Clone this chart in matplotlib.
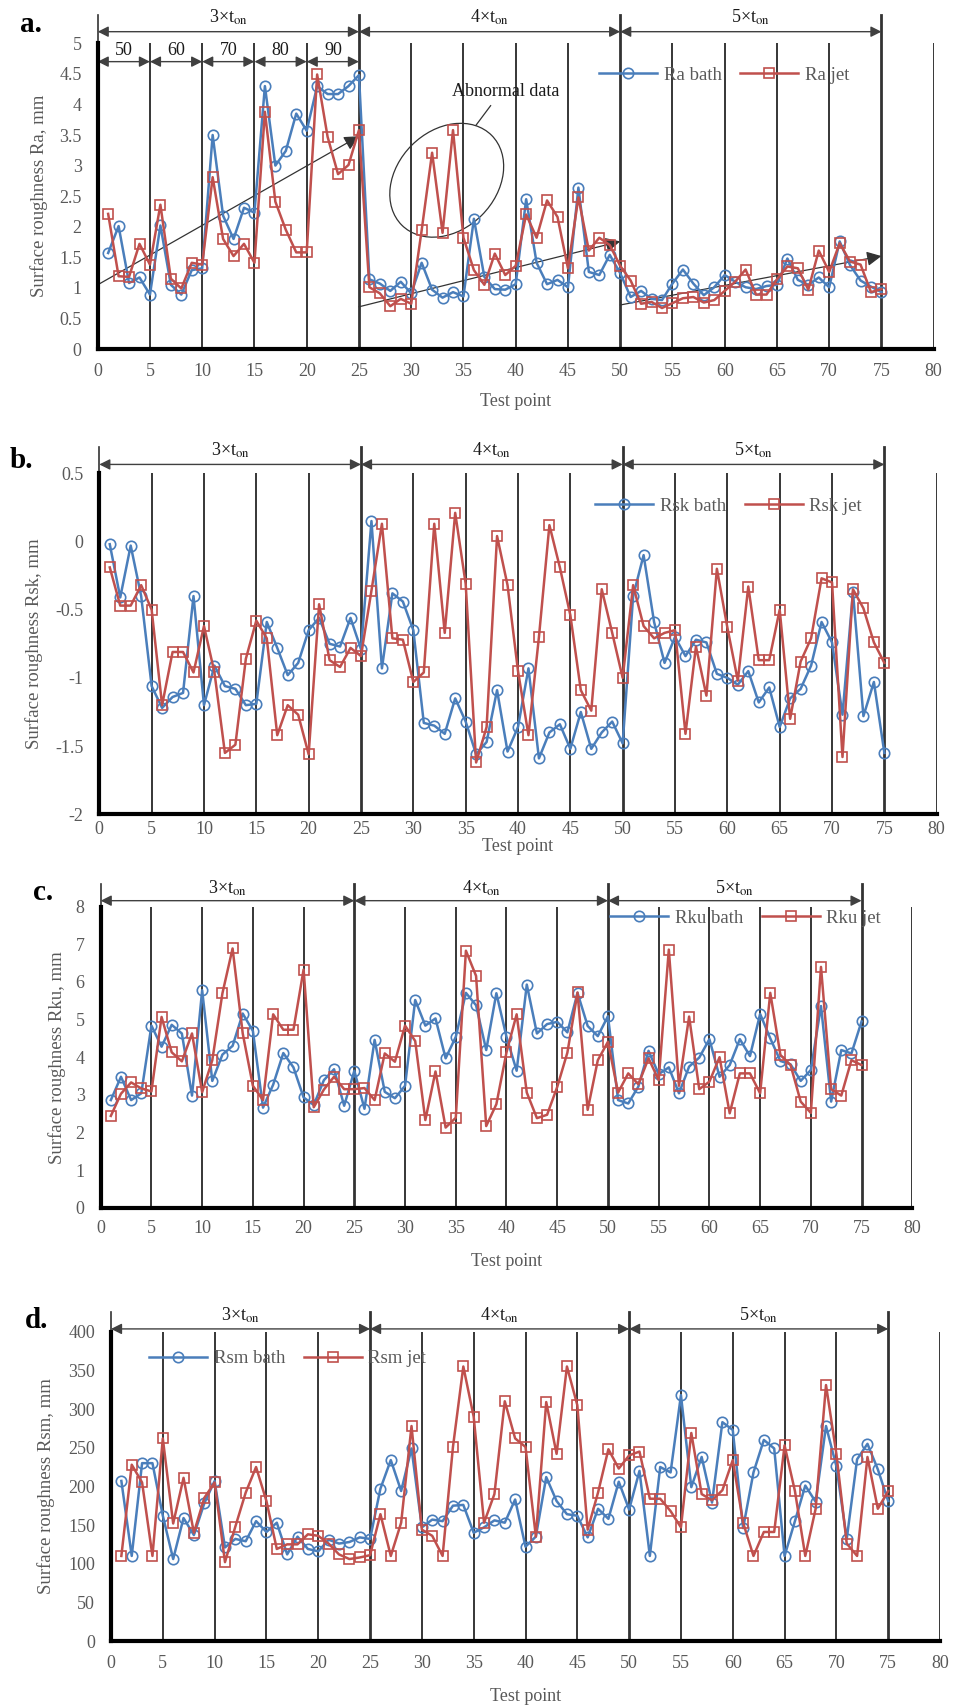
import matplotlib
matplotlib.use('Agg')
import matplotlib.pyplot as plt
from matplotlib.patches import Ellipse
from matplotlib.transforms import ScaledTranslation, blended_transform_factory
from matplotlib.ticker import FuncFormatter, MultipleLocator

plt.rcParams['font.family'] = ['Liberation Serif', 'DejaVu Serif']
plt.rcParams['mathtext.fontset'] = 'stix'

# ---------------- data ----------------
test_points = list(range(1, 76))

ra_bath = [1.57, 2.01, 1.08, 1.17, 0.89, 2.02, 1.05, 0.89, 1.29, 1.32, 3.50, 2.18, 1.80, 2.31, 2.23,
           4.30, 3.00, 3.24, 3.85, 3.57, 4.30, 4.17, 4.17, 4.30, 4.48,
           1.14, 1.07, 0.95, 1.10, 0.91, 1.41, 0.97, 0.84, 0.93, 0.86, 2.13, 1.18, 0.98, 0.97, 1.06,
           2.45, 1.41, 1.06, 1.13, 1.01, 2.64, 1.26, 1.21, 1.54, 1.24,
           0.85, 0.95, 0.82, 0.80, 1.07, 1.30, 1.07, 0.88, 1.01, 1.21, 1.10, 1.01, 0.98, 1.03, 1.05,
           1.48, 1.13, 1.05, 1.17, 1.01, 1.76, 1.37, 1.12, 1.02, 0.93]
ra_jet = [2.21, 1.19, 1.18, 1.72, 1.38, 2.36, 1.15, 0.99, 1.41, 1.38, 2.81, 1.80, 1.52, 1.72, 1.41,
          3.88, 2.41, 1.95, 1.58, 1.58, 4.49, 3.47, 2.86, 3.01, 3.58,
          1.01, 0.91, 0.70, 0.82, 0.74, 1.94, 3.21, 1.90, 3.58, 1.82, 1.29, 1.05, 1.56, 1.21, 1.36,
          2.20, 1.82, 2.43, 2.16, 1.32, 2.48, 1.61, 1.82, 1.70, 1.36,
          1.12, 0.74, 0.77, 0.67, 0.75, 0.83, 0.85, 0.76, 0.80, 0.95, 1.10, 1.30, 0.89, 0.89, 1.14,
          1.35, 1.32, 0.97, 1.61, 1.26, 1.73, 1.43, 1.38, 0.93, 0.98]

rsk_bath = [-0.02, -0.41, -0.03, -0.40, -1.06, -1.22, -1.14, -1.11, -0.40, -1.20, -0.91, -1.06, -1.08,
            -1.20, -1.19, -0.59, -0.78, -0.98, -0.89, -0.65, -0.56, -0.75, -0.77, -0.56, -0.79,
            0.15, -0.93, -0.38, -0.44, -0.65, -1.33, -1.35, -1.41, -1.15, -1.32, -1.56, -1.47, -1.09,
            -1.54, -1.36, -0.93, -1.59, -1.40, -1.34, -1.52, -1.25, -1.52, -1.40, -1.32, -1.48,
            -0.40, -0.10, -0.59, -0.89, -0.70, -0.84, -0.72, -0.74, -0.97, -1.00, -1.05, -0.95, -1.18,
            -1.07, -1.36, -1.15, -1.08, -0.91, -0.59, -0.74, -1.27, -0.37, -1.28, -1.03, -1.55]
rsk_jet = [-0.19, -0.47, -0.47, -0.32, -0.50, -1.20, -0.81, -0.81, -0.96, -0.62, -0.96, -1.55, -1.49,
           -0.86, -0.58, -0.71, -1.42, -1.20, -1.27, -1.56, -0.46, -0.87, -0.92, -0.78, -0.84,
           -0.36, 0.13, -0.71, -0.72, -1.03, -0.96, 0.13, -0.67, 0.21, -0.31, -1.62, -1.36, 0.04,
           -0.32, -0.95, -1.42, -0.70, 0.12, -0.19, -0.54, -1.09, -1.24, -0.35, -0.67, -1.00,
           -0.32, -0.62, -0.71, -0.67, -0.65, -1.41, -0.77, -1.13, -0.20, -0.63, -1.02, -0.33, -0.87,
           -0.87, -0.50, -1.30, -0.88, -0.71, -0.27, -0.30, -1.58, -0.35, -0.49, -0.74, -0.89]

rku_bath = [2.86, 3.48, 2.86, 3.04, 4.84, 4.28, 4.86, 4.63, 2.98, 5.78, 3.37, 4.07, 4.30, 5.16, 4.70,
            2.66, 3.27, 4.11, 3.73, 2.93, 2.73, 3.39, 3.68, 2.71, 3.64,
            2.63, 4.46, 3.08, 2.91, 3.24, 5.52, 4.84, 5.03, 3.97, 4.54, 5.71, 5.38, 4.19, 5.70, 4.54,
            3.64, 5.93, 4.63, 4.88, 4.94, 4.66, 5.71, 4.83, 4.56, 5.09,
            2.86, 2.77, 3.22, 4.17, 3.55, 3.73, 3.04, 3.75, 3.99, 4.48, 3.48, 3.79, 4.48, 4.03, 5.15,
            4.50, 3.90, 3.81, 3.37, 3.66, 5.36, 2.82, 4.19, 4.10, 4.95]
rku_jet = [2.44, 3.03, 3.33, 3.17, 3.09, 5.07, 4.13, 3.89, 4.63, 3.07, 3.92, 5.70, 6.89, 4.63, 3.24,
           2.86, 5.14, 4.73, 4.73, 6.33, 2.67, 3.14, 3.48, 3.15, 3.15,
           3.18, 2.86, 4.10, 3.88, 4.84, 4.43, 2.33, 3.62, 2.13, 2.39, 6.83, 6.16, 2.17, 2.75, 4.13,
           5.14, 3.06, 2.38, 2.47, 3.21, 4.12, 5.72, 2.60, 3.92, 4.41,
           3.06, 3.57, 3.28, 3.97, 3.39, 6.86, 3.24, 5.08, 3.15, 3.35, 4.00, 2.51, 3.57, 3.57, 3.04,
           5.71, 4.06, 3.79, 2.82, 2.52, 6.40, 3.15, 2.98, 3.92, 3.79]

rsm_bath = [207, 110, 230, 230, 162, 106, 159, 137, 178, 207, 121, 132, 129, 155, 141,
            153, 112, 135, 119, 116, 131, 126, 128, 134, 132,
            197, 234, 194, 249, 147, 157, 155, 175, 176, 140, 147, 156, 153, 183, 122,
            135, 212, 181, 164, 162, 134, 171, 158, 206, 170,
            220, 110, 225, 218, 318, 199, 238, 179, 283, 273, 146, 218, 260, 249, 110,
            155, 201, 180, 278, 226, 132, 235, 255, 222, 181]
rsm_jet = [110, 228, 205, 110, 262, 152, 211, 140, 185, 205, 102, 148, 192, 225, 181,
           119, 125, 125, 138, 136, 126, 112, 106, 108, 111,
           164, 110, 153, 278, 144, 136, 110, 251, 355, 290, 153, 190, 310, 262, 251,
           135, 309, 242, 355, 305, 144, 192, 248, 223, 240,
           245, 184, 184, 168, 147, 269, 190, 182, 195, 234, 153, 110, 141, 141, 253,
           194, 110, 171, 331, 242, 126, 110, 238, 171, 194]

period_labels = ['3×t$_{\\mathrm{on}}$', '4×t$_{\\mathrm{on}}$', '5×t$_{\\mathrm{on}}$']
period_bounds = [0, 25, 50, 75]
sub_labels = ['50', '60', '70', '80', '90']
sub_bounds = [0, 5, 10, 15, 20, 25]
trend_starts = [(0, 1.05), (25, 0.69), (50, 0.72)]
trend_ends = [(25, 3.48), (50, 1.76), (75, 1.52)]
abnormal_center = (33.4, 2.76)
abnormal_text = (39.0, 4.21)
abnormal_leader = [(36.2, 3.66), (37.6, 3.98)]

# ---------------- layout ----------------
W, H = 958, 1707
BLUE = '#4A7EBB'
RED = '#C0504D'
GRAY = '#595959'


def frac_rect(left, right, top, bottom):
    return [left / W, 1 - bottom / H, (right - left) / W, (bottom - top) / H]


panels = [
    dict(tag='a.', tagpos=(20, 32), rect=frac_rect(97.7, 933.7, 43.3, 349), ylim=(0, 5), ystep=0.5,
         bath=ra_bath, jet=ra_jet, names=('Ra bath', 'Ra jet'), ylabel='Surface roughness Ra, mm',
         leg=(0.5997, 0.896), ylab_x=-0.0595, xlab_y=-0.144, xpad=10, top=1.093, arr=1.038, txt=1.086),
    dict(tag='b.', tagpos=(10, 468), rect=frac_rect(99.3, 936.7, 473.3, 814.3), ylim=(-2, 0.5), ystep=0.5,
         bath=rsk_bath, jet=rsk_jet, names=('Rsk bath', 'Rsk jet'), ylabel='Surface roughness Rsk, mm',
         leg=(0.592, 0.904), ylab_x=-0.0672, xlab_y=-0.0695, xpad=4.5, top=1.077, arr=1.026, txt=1.068),
    dict(tag='c.', tagpos=(33, 900), rect=frac_rect(100.7, 912.3, 906.7, 1207.7), ylim=(0, 8), ystep=1,
         bath=rku_bath, jet=rku_jet, names=('Rku bath', 'Rku jet'), ylabel='Surface roughness Rku, mm',
         leg=(0.6275, 0.9625), ylab_x=-0.0428, xlab_y=-0.150, xpad=9, top=1.075, arr=1.020, txt=1.062),
    dict(tag='d.', tagpos=(25, 1328), rect=frac_rect(111, 940, 1331.7, 1641), ylim=(0, 400), ystep=50,
         bath=rsm_bath, jet=rsm_jet, names=('Rsm bath', 'Rsm jet'), ylabel='Surface roughness Rsm, mm',
         leg=(0.0458, 0.913), ylab_x=-0.0676, xlab_y=-0.152, xpad=10, top=1.065, arr=1.009, txt=1.054),
]

fig = plt.figure(figsize=(W / 100, H / 100), dpi=100)
fmt = FuncFormatter(lambda v, _: f'{v:g}')
axes = []
for p in panels:
    ax = fig.add_axes(p['rect'])
    axes.append(ax)
    ax.set_xlim(0, 80)
    ax.set_ylim(*p['ylim'])
    ax.xaxis.set_major_locator(MultipleLocator(5))
    ax.yaxis.set_major_locator(MultipleLocator(p['ystep']))
    ax.xaxis.set_major_formatter(fmt)
    ax.yaxis.set_major_formatter(fmt)
    bt = blended_transform_factory(ax.transData, ax.transAxes)

    for xv in range(5, 81, 5):
        if xv in period_bounds:
            continue
        ax.axvline(xv, color='black', lw=1.1, zorder=1)
    for xv in period_bounds:
        ax.plot([xv, xv], [0, p['top']], transform=bt, color='#333333',
                lw=2.0 if xv else 1.2, clip_on=False, zorder=1)

    ax.plot(test_points, p['bath'], color=BLUE, lw=1.8, marker='o', ms=7.5, mfc='none',
            mew=1.2, label=p['names'][0], zorder=3)
    ax.plot(test_points, p['jet'], color=RED, lw=1.8, marker='s', ms=7.5, mfc='none',
            mew=1.2, label=p['names'][1], zorder=3)

    for s in ('top', 'right'):
        ax.spines[s].set_visible(False)
    for s in ('left', 'bottom'):
        ax.spines[s].set_linewidth(3)
        ax.spines[s].set_color('black')
        ax.spines[s].set_zorder(4)
    ax.tick_params(axis='both', length=0, labelsize=13, colors=GRAY)
    ax.tick_params(axis='x', pad=p['xpad'])
    ax.tick_params(axis='y', pad=11.5)
    ax.set_ylabel(p['ylabel'], fontsize=13.5, color=GRAY)
    ax.yaxis.set_label_coords(p['ylab_x'], 0.5)
    ax.set_xlabel('Test point', fontsize=13, color=GRAY)
    ax.xaxis.set_label_coords(0.5, p['xlab_y'])

    for i, lab in enumerate(period_labels):
        b0, b1 = period_bounds[i], period_bounds[i + 1]
        ax.annotate('', xy=(b1, p['arr']), xytext=(b0, p['arr']), xycoords=bt, textcoords=bt,
                    arrowprops=dict(arrowstyle='<|-|>', color='#404040', lw=1.0,
                                    mutation_scale=16, shrinkA=0, shrinkB=0),
                    annotation_clip=False)
        ax.text((b0 + b1) / 2, p['txt'], lab, transform=bt, ha='center', va='center',
                fontsize=13, color='#1a1a1a')

    ax.legend(loc='center left', bbox_to_anchor=p['leg'], ncol=2, frameon=False, fontsize=13.5,
              handlelength=3.1, handletextpad=0.35, columnspacing=1.0, borderpad=0,
              borderaxespad=0, labelcolor=GRAY)

    fig.text(p['tagpos'][0] / W, 1 - p['tagpos'][1] / H, p['tag'], fontsize=21,
             fontweight='bold', va='baseline', ha='left', color='black')

# panel a extras
ax = axes[0]
for i, lab in enumerate(sub_labels):
    b0, b1 = sub_bounds[i], sub_bounds[i + 1]
    ax.annotate('', xy=(b1, 4.70), xytext=(b0, 4.70),
                arrowprops=dict(arrowstyle='<|-|>', color='#404040', lw=1.0,
                                mutation_scale=16, shrinkA=0, shrinkB=0))
    ax.text((b0 + b1) / 2, 4.88, lab, ha='center', va='center', fontsize=13, color='#1a1a1a')

for (x0, y0), (x1, y1) in zip(trend_starts, trend_ends):
    ax.annotate('', xy=(x1, y1), xytext=(x0, y0),
                arrowprops=dict(arrowstyle='-|>', color='#333333', lw=0.9,
                                mutation_scale=22, shrinkA=0, shrinkB=0), zorder=2)

ell_tr = fig.dpi_scale_trans + ScaledTranslation(abnormal_center[0], abnormal_center[1], ax.transData)
ax.add_patch(Ellipse((0, 0), 1.27, 0.99, angle=45, fill=False, ec='#333333', lw=0.9,
                     transform=ell_tr, zorder=2))
ax.plot([abnormal_leader[0][0], abnormal_leader[1][0]], [abnormal_leader[0][1], abnormal_leader[1][1]],
        color='#333333', lw=0.9)
ax.text(abnormal_text[0], abnormal_text[1], 'Abnormal data', ha='center', va='center',
        fontsize=13, color='#1a1a1a')

fig.savefig('out.png', dpi=100)
